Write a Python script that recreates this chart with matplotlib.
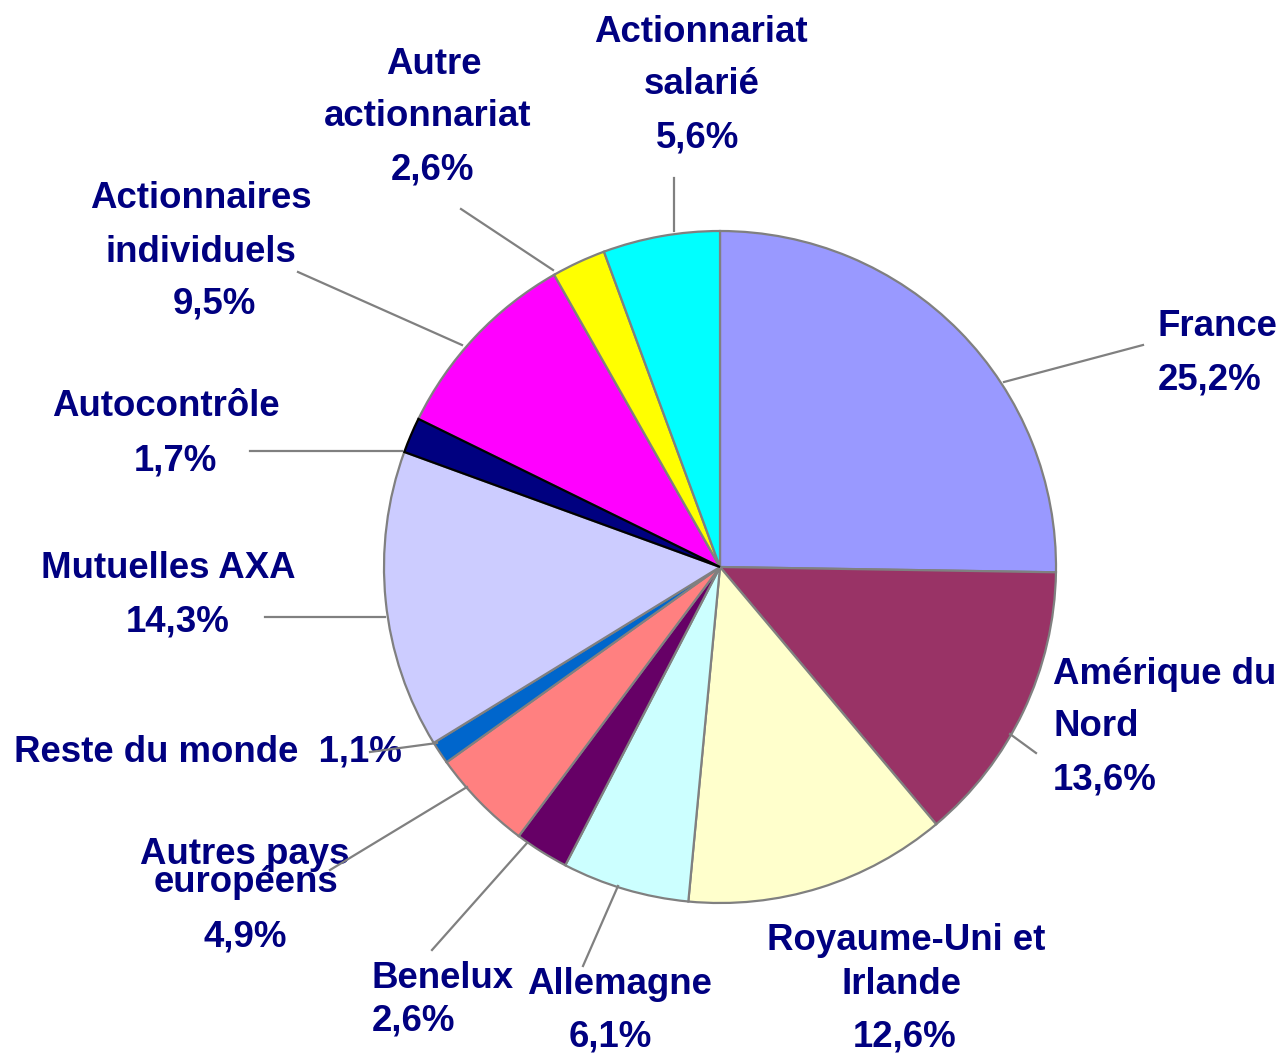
import matplotlib
matplotlib.use("Agg")
import matplotlib.pyplot as plt

# ---- data ----
categories = ["France", "Amérique du Nord", "Royaume-Uni et Irlande", "Allemagne",
              "Benelux", "Autres pays européens", "Reste du monde", "Mutuelles AXA",
              "Autocontrôle", "Actionnaires individuels", "Autre actionnariat",
              "Actionnariat salarié"]
values = [25.2, 13.6, 12.6, 6.1, 2.6, 4.9, 1.1, 14.3, 1.7, 9.5, 2.6, 5.6]
colors = ["#9999FF", "#993366", "#FFFFCC", "#CCFFFF", "#660066", "#FF8080",
          "#0066CC", "#CCCCFF", "#000080", "#FF00FF", "#FFFF00", "#00FFFF"]
label_lines = [
    ["France", "25,2%"],
    ["Amérique du", "Nord", "13,6%"],
    ["Royaume-Uni et", "Irlande", "12,6%"],
    ["Allemagne", "6,1%"],
    ["Benelux", "2,6%"],
    ["Autres pays", "européens", "4,9%"],
    ["Reste du monde  1,1%"],
    ["Mutuelles AXA", "14,3%"],
    ["Autocontrôle", "1,7%"],
    ["Actionnaires", "individuels", "9,5%"],
    ["Autre", "actionnariat", "2,6%"],
    ["Actionnariat", "salarié", "5,6%"],
]

# ---- layout (pixel coordinates, y from top) ----
W, H = 1285, 1053
label_layout = [
    ([1158, 1158], "left", [326, 380]),
    ([1053, 1053, 1053], "left", [675, 727, 780]),
    ([906, 902, 905], "center", [940, 985, 1037]),
    ([620, 610], "center", [985, 1037]),
    ([372, 372], "left", [978, 1021]),
    ([245, 246, 245], "center", [855, 883, 937]),
    ([14], "left", [752]),
    ([168, 178], "center", [569, 622]),
    ([166, 175], "center", [407, 461]),
    ([201, 201, 214], "center", [199, 252, 304]),
    ([434, 428, 433], "center", [64, 117, 170]),
    ([701, 702, 698], "center", [33, 85, 138]),
]
leaders = [
    ((1004, 382), (1143, 345)),
    ((1010, 734), (1036, 753)),
    None,
    ((618, 886), (583, 966)),
    ((527, 843), (432, 950)),
    ((467, 787), (330, 870)),
    ((437, 743), (370, 752)),
    ((385, 617), (265, 617)),
    ((402, 451), (250, 451)),
    ((462, 345), (298, 272)),
    ((553, 270), (461, 209)),
    ((674, 231), (674, 178)),
]

fig = plt.figure(figsize=(W / 100, H / 100), dpi=100)
ax = fig.add_axes([0, 0, 1, 1])

wedges, _ = ax.pie(values, colors=colors, startangle=90, counterclock=False,
                   center=(720, H - 567), radius=336,
                   wedgeprops=dict(edgecolor="#808080", linewidth=1.6))
wedges[categories.index("Autocontrôle")].set_edgecolor("black")
wedges[categories.index("Autocontrôle")].set_zorder(3)

txt_color = "#000080"
for lines, (xs, ha, ys) in zip(label_lines, label_layout):
    for line, x, y in zip(lines, xs, ys):
        ax.text(x, H - y, line, ha=ha, va="center", color=txt_color,
                fontsize=26.4, fontweight="bold", family="Liberation Sans", zorder=4)

for ld in leaders:
    if ld is None:
        continue
    (x1, y1), (x2, y2) = ld
    ax.plot([x1, x2], [H - y1, H - y2], color="#808080", lw=1.6, zorder=5)

ax.set_xlim(0, W)
ax.set_ylim(0, H)
ax.set_aspect("equal")
ax.axis("off")
fig.savefig("out.png", dpi=100)
